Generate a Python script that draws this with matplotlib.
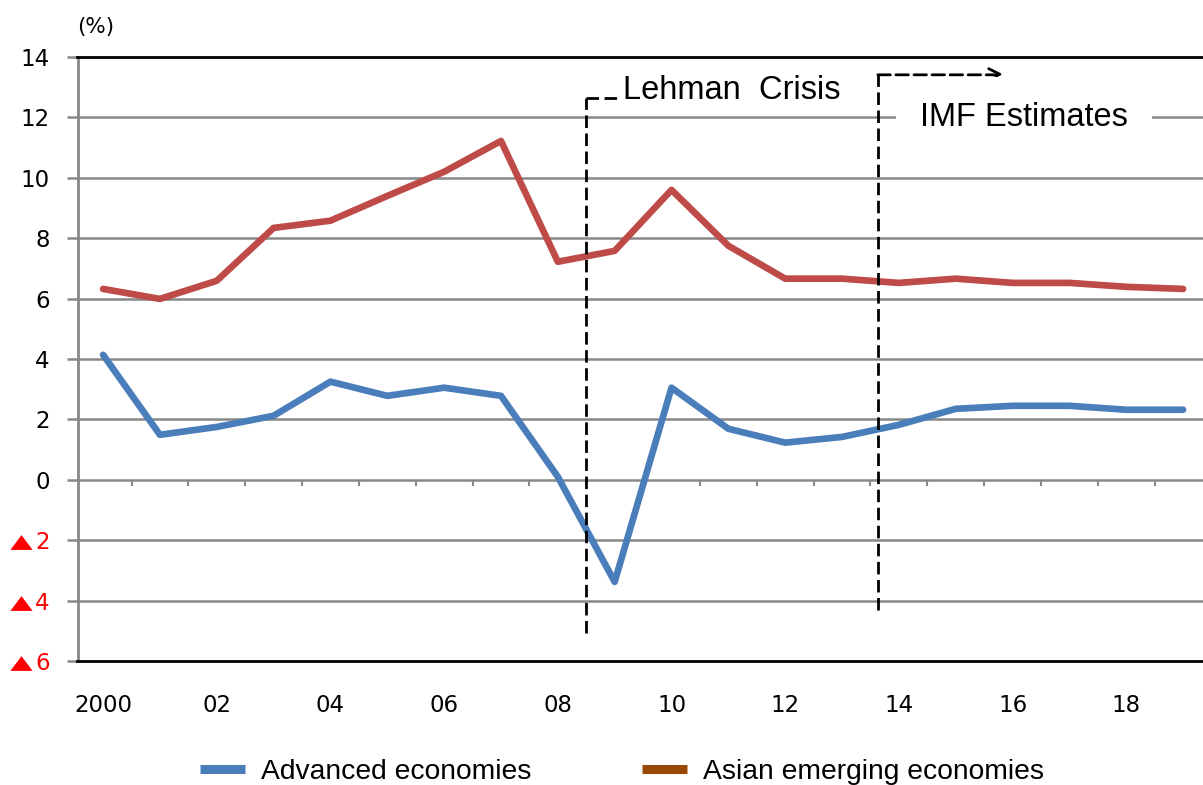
import matplotlib
matplotlib.use('Agg')
import matplotlib.pyplot as plt
import matplotlib.transforms as mtrans
from matplotlib.lines import Line2D
import numpy as np

years = list(range(2000, 2020))
advanced = [4.14, 1.49, 1.75, 2.12, 3.25, 2.78, 3.05, 2.78, 0.10, -3.38,
            3.05, 1.69, 1.23, 1.42, 1.82, 2.35, 2.45, 2.45, 2.32, 2.32]
asian = [6.32, 5.99, 6.59, 8.34, 8.58, 9.40, 10.20, 11.22, 7.22, 7.58,
         9.60, 7.75, 6.66, 6.66, 6.52, 6.66, 6.52, 6.52, 6.39, 6.32]
xlabels = ['2000', '02', '04', '06', '08', '10', '12', '14', '16', '18']
ylevels = [14, 12, 10, 8, 6, 4, 2, 0, -2, -4, -6]

blue = '#4a7ebb'
red = '#be4b48'
brown = '#984807'
grid = '#888888'
dash = (0, (4.5, 2))

plt.rcParams['font.family'] = ['DejaVu Sans']

fig = plt.figure(figsize=(12.03, 7.85), dpi=100)
ax = fig.add_axes([77.5 / 1203, 1 - 661 / 785, 1 - 77.5 / 1203, (661 - 57) / 785])

ax.set_xlim(1999.55, 2019.35)
ax.set_ylim(-6, 14)

# gridlines
for v in ylevels[1:-1]:
    ax.axhline(v, color=grid, lw=1.8, zorder=1)

ax.plot(years, asian, color=red, lw=4.8, solid_joinstyle='round',
        solid_capstyle='round', zorder=3)
ax.plot(years, advanced, color=blue, lw=4.8, solid_joinstyle='round',
        solid_capstyle='round', zorder=3)

# small year-boundary ticks on the zero line
bounds = np.array(years[:-1]) + 0.5
ax.vlines(bounds, -0.22, 0, color=grid, lw=1.5, zorder=2)

# spines
ax.spines['right'].set_visible(False)
ax.spines['top'].set_color('black')
ax.spines['top'].set_linewidth(2)
ax.spines['bottom'].set_color('black')
ax.spines['bottom'].set_linewidth(2)
ax.spines['left'].set_color(grid)
ax.spines['left'].set_linewidth(2)

# y ticks (negatives shown as red triangle + digit)
ax.set_yticks(ylevels)
ax.set_yticklabels([str(abs(v)) for v in ylevels], fontsize=16.5)
for t, v in zip(ax.get_yticklabels(), ylevels):
    if v < 0:
        t.set_color('red')
ax.tick_params(axis='y', length=8, width=1.8, color=grid, pad=12)

neg = [v for v in ylevels if v < 0]
tri = [(-1, -0.667), (1, -0.667), (0, 0.667), (-1, -0.667)]
tr = mtrans.blended_transform_factory(ax.transAxes, ax.transData) + \
    mtrans.ScaledTranslation(-0.57, -0.02, fig.dpi_scale_trans)
ax.plot([0] * len(neg), neg, transform=tr, ls='none', marker=tri, ms=16,
        color='red', mec='none', clip_on=False)

# x ticks
ax.set_xticks(years[::2])
ax.set_xticklabels(xlabels, fontsize=16.5)
ax.tick_params(axis='x', length=0, pad=24)

fig.text(77 / 1203, 1 - 27 / 785, '(%)', fontsize=15.5, ha='left', va='center')

# Lehman crisis marker
ax.plot([2008.5, 2008.5], [-5.07, 12.65], color='black', lw=2, ls=dash, zorder=4)
ax.plot([2008.5, 2009.1], [12.65, 12.65], color='black', lw=2, ls=dash, zorder=4)
ax.text(2009.15, 12.9, 'Lehman  Crisis', fontsize=23.5, family='Liberation Sans',
        ha='left', va='center', zorder=5)

# IMF estimates marker
ax.plot([2013.63, 2013.63], [-4.3, 13.41], color='black', lw=2, ls=dash, zorder=4)
ax.annotate('', xy=(2015.85, 13.41), xytext=(2013.63, 13.41),
            arrowprops=dict(arrowstyle='->', color='black', lw=2, ls=dash,
                            shrinkA=0, shrinkB=0, mutation_scale=22), zorder=4)
ax.text(2016.2, 12.0, 'IMF Estimates', fontsize=23.5, family='Liberation Sans',
        ha='center', va='center', zorder=5,
        bbox=dict(boxstyle='square,pad=0.75', fc='white', ec='none'))

handles = [Line2D([], [], color=blue, lw=6.5, solid_capstyle='butt'),
           Line2D([], [], color=brown, lw=6.5, solid_capstyle='butt')]
fig.legend(handles, ['Advanced economies', 'Asian emerging economies'],
           loc='center', bbox_to_anchor=(0.517, 1 - 772 / 785), ncol=2,
           frameon=False, prop={'family': 'Liberation Sans', 'size': 20.3},
           handlelength=1.6, handletextpad=0.55, columnspacing=3.95)

fig.savefig('out.png', dpi=100)
